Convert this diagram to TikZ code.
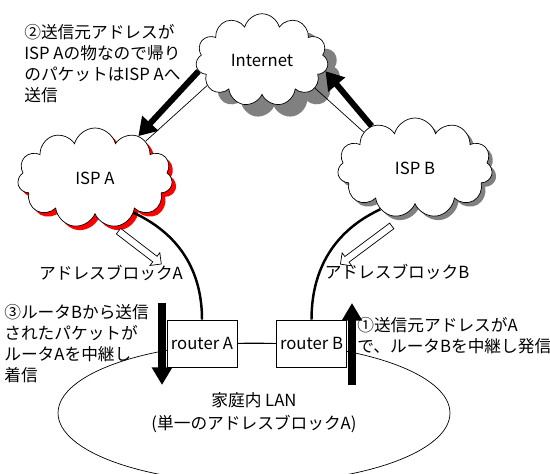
\documentclass[tikz,border=0pt]{standalone}
\usepackage{fontspec}
\setmainfont{Noto Sans CJK JP}
\usetikzlibrary{arrows.meta}
\usetikzlibrary{shapes.symbols}
\usetikzlibrary{shapes.geometric}
\usetikzlibrary{shapes.arrows}
\definecolor{shadegray}{RGB}{128,128,128}
\tikzset{cloudbox/.style = {cloud, cloud puffs=11, cloud ignores aspect, draw, fill=white}}
\tikzset{cloudshade/.style = {cloud, cloud puffs=11, cloud ignores aspect, fill=shadegray}}
\tikzset{router/.style = {draw, fill=white, minimum width=1.4cm, minimum height=0.94cm, inner sep=1pt}}
\tikzset{uplink/.style = {line width=1.4pt}}
\tikzset{fat/.style = {line width=3.4pt, -{Triangle[length=10pt, width=12pt]}}}
\tikzset{updown/.style = {line width=5pt, -{Triangle[length=10pt, width=11pt]}}}
\tikzset{hollow/.style = {single arrow, draw, fill=white, inner sep=1.8pt,
                          single arrow head extend=2.6pt}}
\tikzset{note/.style = {align=left, anchor=north west, inner sep=0}}

\begin{document}
\begin{tikzpicture}[x=0.02cm, y=0.02cm,
    every node/.style={font=\fontsize{9.5pt}{12pt}\selectfont}]
    \useasboundingbox (0, 0) rectangle (550, 473);
    % LAN
    \node [ellipse, draw, minimum width=7.84cm, minimum height=2.8cm, align=center,
           font=\fontsize{9.5pt}{13pt}\selectfont]
      (lan) at (254, 60) {家庭内 LAN\\(単一のアドレスブロックA)};
    % clouds with shadow
    \node [cloudshade, minimum width=2.65cm, minimum height=1.85cm] at (274, 401) {};
    \node [cloudshade, fill=red, minimum width=3.1cm, minimum height=2.0cm] at (99, 291) {};
    \node [cloudshade, minimum width=3.1cm, minimum height=2.0cm] at (419, 301) {};
    \node [cloudbox, minimum width=2.65cm, minimum height=1.85cm] (inet) at (262, 413) {Internet};
    \node [cloudbox, minimum width=3.1cm, minimum height=2.0cm] (ispa) at (95, 295) {ISP A};
    \node [cloudbox, minimum width=3.1cm, minimum height=2.0cm] (ispb) at (415, 305) {ISP B};
    % routers
    \node [router] (rta) at (202, 129.5) {router A};
    \node [router] (rtb) at (311.5, 129.5) {router B};
    \draw (rta) -- (rtb);
    \draw [uplink] (ispa.-42) to[out=-25, in=90] (rta.north);
    \draw [uplink] (ispb.230) to[out=205, in=90] (rtb.north);
    % internet links
    \draw (inet.205) -- (ispa.36);
    \draw (inet.-28) -- (ispb.145);
    \draw [fat] (inet.190) -- (ispa.44);
    \draw [fat] (ispb.136) -- (inet.-10);
    % address blocks
    \node [hollow, minimum height=1.08cm, rotate=-37.5] (arra) at (138.5, 226.5) {};
    \node [hollow, minimum height=1.28cm, rotate=216.7] (arrb) at (367.5, 229) {};
    \node (blka) at (111, 200) {アドレスブロックA};
    \node (blkb) at (397, 201) {アドレスブロックB};
    % packet flow
    \coordinate (ina) at (162, 170);
    \coordinate (inb) at (162, 88);
    \coordinate (outa) at (352, 88);
    \coordinate (outb) at (352, 170);
    \draw [updown] (ina) -- (inb);
    \draw [updown] (outa) -- (outb);
    \node [note] (step1) at (357, 156) {①送信元アドレスがA\\で、ルータBを中継し発信};
    \node [note] (step2) at (24, 449) {②送信元アドレスが\\ISP Aの物なので帰り\\のパケットはISP Aへ\\送信};
    \node [note] (step3) at (4, 169) {③ルータBから送信\\されたパケットが\\ルータAを中継し\\着信};
\end{tikzpicture}
\end{document}
